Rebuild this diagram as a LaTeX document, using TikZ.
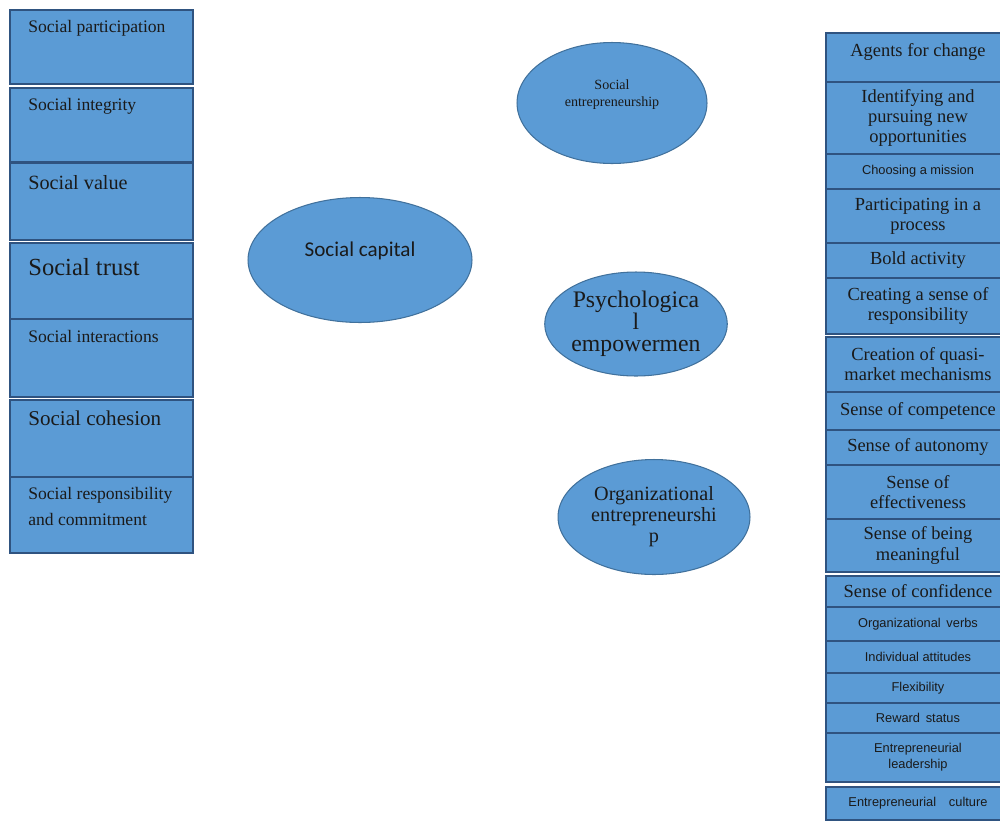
\documentclass[tikz,border=0pt]{standalone}
\usepackage{fontspec}
\setmainfont{Liberation Serif}
\newfontfamily\calibrifont{Carlito}
\newfontfamily\smallsans{Liberation Sans}
\usepackage{tikz}
\usetikzlibrary{positioning,shapes.geometric}

\definecolor{boxblue}{HTML}{5B9BD5}
\definecolor{ovaledge}{HTML}{41719C}
\definecolor{boxedge}{HTML}{2F5380}
\definecolor{inkdark}{HTML}{1A1A1A}

\begin{document}
\begin{tikzpicture}[
    x=0.02cm, y=-0.02cm,
    lbox/.style={
      rectangle, draw=boxedge, line width=1.2pt, fill=boxblue,
      minimum width=3.66cm, inner sep=0pt, outer sep=0pt
    },
    ltext/.style={font=\fontsize{10}{15}\selectfont, text=inkdark,
      align=left, inner sep=0pt, anchor=north west},
    rbox/.style={
      rectangle, draw=boxedge, line width=1.2pt, fill=boxblue,
      minimum width=3.68cm, inner sep=0pt, outer sep=0pt,
      text=inkdark, align=center, font=\fontsize{10.5}{11.5}\selectfont
    },
    tiny/.style={font=\smallsans\fontsize{7.3}{9}\selectfont},
    oval/.style={
      ellipse, draw=ovaledge, line width=0.6pt, fill=boxblue,
      inner sep=0pt, text=inkdark, align=center
    }
  ]
  \useasboundingbox (0,0) rectangle (1000,822);

  % left column
  \node[lbox, anchor=north west, minimum height=1.48cm] (part) at (10,10) {};
  \node[lbox, below=0.08cm of part, minimum height=1.48cm] (integ) {};
  \node[lbox, below=0.02cm of integ, minimum height=1.54cm] (value) {};
  \node[lbox, below=0.06cm of value, minimum height=1.52cm] (trust) {};
  \node[lbox, below=0cm of trust, minimum height=1.56cm] (inter) {};
  \node[lbox, below=0.06cm of inter, minimum height=1.54cm] (cohes) {};
  \node[lbox, below=0cm of cohes, minimum height=1.52cm] (resp) {};

  \node[ltext, below right=0.2cm and 0.36cm of part.north west] {Social participation};
  \node[ltext, below right=0.2cm and 0.36cm of integ.north west] {Social integrity};
  \node[ltext, below right=0.24cm and 0.36cm of value.north west, font=\fontsize{11.5}{14}\selectfont] {Social value};
  \node[ltext, below right=0.3cm and 0.36cm of trust.north west, font=\fontsize{14}{16}\selectfont] {Social trust};
  \node[ltext, below right=0.22cm and 0.36cm of inter.north west] {Social interactions};
  \node[ltext, below right=0.22cm and 0.36cm of cohes.north west, font=\fontsize{12}{14}\selectfont] {Social cohesion};
  \node[ltext, below right=0.2cm and 0.36cm of resp.north west] {Social responsibility\\and commitment};

  % ovals
  \node[oval, minimum width=4.48cm, minimum height=2.5cm,
        font=\calibrifont\fontsize{12}{14}\selectfont] (capital) at (360,260) {\raisebox{0.44cm}{Social capital}};
  \node[oval, minimum width=3.8cm, minimum height=2.42cm,
        font=\fontsize{8}{9.5}\selectfont] (socent) at (612,103) {Social\\entrepreneurship\\[0.05cm]};
  \node[oval, minimum width=3.64cm, minimum height=2.08cm,
        font=\fontsize{13.5}{12.5}\selectfont] (psych) at (636,324) {Psychologica\\l\\empowermen};
  \node[oval, minimum width=3.84cm, minimum height=2.3cm,
        font=\fontsize{11.5}{12}\selectfont] (orgent) at (654,517) {Organizational\\entrepreneurshi\\p};

  % right column
  \node[rbox, anchor=north west, minimum height=0.98cm] (agents) at (826,33) {Agents for change\\[-0.1cm]};
  \node[rbox, below=0cm of agents, minimum height=1.44cm] (ident) {Identifying and\\pursuing new\\opportunities};
  \node[rbox, tiny, below=0cm of ident, minimum height=0.7cm] (mission) {Choosing a mission};
  \node[rbox, below=0cm of mission, minimum height=1.08cm] (process) {Participating in a\\process};
  \node[rbox, below=0cm of process, minimum height=0.7cm] (bold) {Bold activity};
  \node[rbox, below=0cm of bold, minimum height=1.12cm] (creating) {Creating a sense of\\responsibility};
  \node[rbox, below=0.06cm of creating, minimum height=1.1cm] (quasi) {Creation of quasi-\\market mechanisms};
  \node[rbox, below=0cm of quasi, minimum height=0.76cm] (compet) {Sense of competence};
  \node[rbox, below=0cm of compet, minimum height=0.7cm] (autonomy) {Sense of autonomy};
  \node[rbox, below=0cm of autonomy, minimum height=1.08cm] (effect) {Sense of\\effectiveness};
  \node[rbox, below=0cm of effect, minimum height=1.06cm] (meaning) {Sense of being\\meaningful};
  \node[rbox, below=0.08cm of meaning, minimum height=0.62cm] (confid) {Sense of confidence};
  \node[rbox, tiny, below=0cm of confid, minimum height=0.68cm] (verbs) {Organizational\, verbs};
  \node[rbox, tiny, below=0cm of verbs, minimum height=0.64cm] (attit) {Individual attitudes};
  \node[rbox, tiny, below=0cm of attit, minimum height=0.6cm] (flex) {Flexibility};
  \node[rbox, tiny, below=0cm of flex, minimum height=0.6cm] (reward) {Reward\, status};
  \node[rbox, tiny, below=0cm of reward, minimum height=0.98cm] (leader) {Entrepreneurial\\leadership};
  \node[rbox, tiny, below=0.1cm of leader, minimum height=0.66cm] (culture) {Entrepreneurial\quad culture};
\end{tikzpicture}
\end{document}
